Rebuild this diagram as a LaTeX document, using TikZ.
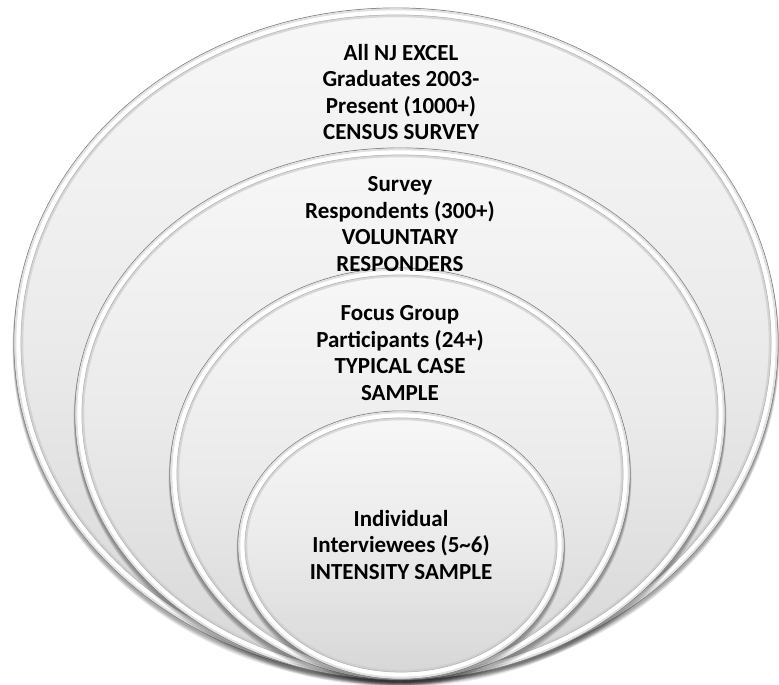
\documentclass[tikz,border=0pt]{standalone}
\usepackage{fontspec}
\setmainfont{Carlito}
\begin{document}
\begin{tikzpicture}[x=1pt,y=-1pt,
  lbl/.style={font=\bfseries\fontsize{23}{26.5}\selectfont, align=center, text=black, inner sep=0pt},
  shade1/.style={shade, top color=black!3, bottom color=black!16, middle color=black!8},
  rimline/.style={draw=black!50, line width=0.9pt}]
\useasboundingbox (0,0) rectangle (779,685);
\foreach \cx/\cy/\rx/\ry in {396/343/382/335, 400/414/325/266, 400/474/230/206, 401/545/163/134}{
  % soft shadow
  \foreach \k in {1,...,5}{
    \fill[black, opacity=0.08] (\cx,\cy+2+0.6*\k) ellipse [x radius={\rx*1pt+0.3pt*\k}, y radius={\ry*1pt+0.4pt*\k}];
  }
  \path[shade1] (\cx,\cy) ellipse [x radius=\rx pt, y radius=\ry pt];
  \draw[rimline] (\cx,\cy) ellipse [x radius=\rx pt, y radius=\ry pt];
  \draw[black!12, line width=3pt] (\cx,\cy) ellipse [x radius={\rx*1pt-1.8pt}, y radius={\ry*1pt-1.8pt}];
  \draw[white, line width=4.5pt] (\cx,\cy) ellipse [x radius={\rx*1pt-4.6pt}, y radius={\ry*1pt-4.6pt}];
  \draw[black!20, line width=2.5pt, opacity=0.7] (\cx,\cy) ellipse [x radius={\rx*1pt-8pt}, y radius={\ry*1pt-8pt}];
  \draw[black!30, line width=0.5pt] (\cx,\cy) ellipse [x radius={\rx*1pt-6.9pt}, y radius={\ry*1pt-6.9pt}];
}
\node[lbl] (t1) at (401,92) {All NJ EXCEL\\Graduates 2003-\\Present (1000+)\\CENSUS SURVEY};
\node[lbl] (t2) at (400,224) {Survey\\Respondents (300+)\\VOLUNTARY\\RESPONDERS};
\node[lbl] (t3) at (400,353) {Focus Group\\Participants (24+)\\TYPICAL CASE\\SAMPLE};
\node[lbl] (t4) at (401,545) {Individual\\Interviewees (5\textasciitilde6)\\INTENSITY SAMPLE};
\end{tikzpicture}
\end{document}
